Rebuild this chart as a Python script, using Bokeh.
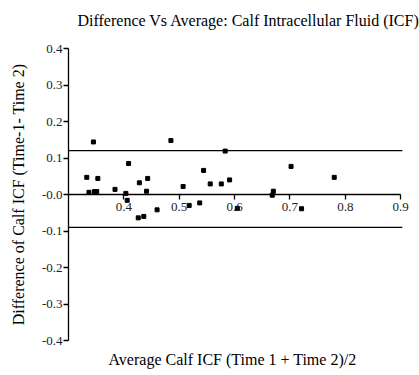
from bokeh.plotting import figure
from bokeh.models import Range1d, FixedTicker, Title, LabelSet, ColumnDataSource, CustomJSTickFormatter
from bokeh.core.properties import value
from bokeh.embed import file_html
from bokeh.resources import INLINE

# Data
avg_icf = [0.345, 0.333, 0.353, 0.337, 0.347, 0.351, 0.384, 0.4085, 0.4036, 0.406,
           0.428, 0.443, 0.441, 0.426, 0.436, 0.460, 0.485, 0.583, 0.544, 0.507,
           0.556, 0.576, 0.591, 0.518, 0.537, 0.605, 0.670, 0.668, 0.702, 0.780, 0.721]
diff_icf = [0.144, 0.047, 0.044, 0.006, 0.008, 0.008, 0.014, 0.085, 0.003, -0.016,
            0.032, 0.044, 0.009, -0.064, -0.060, -0.042, 0.148, 0.119, 0.066, 0.022,
            0.029, 0.029, 0.040, -0.030, -0.023, -0.038, 0.009, -0.002, 0.077, 0.047, -0.039]
limit_values = [0.12, -0.09]
x_ticks = [0.4, 0.5, 0.6, 0.7, 0.8, 0.9]
x_tick_labels = ["0.4", "0.5", "0.6", "0.7", "0.8", "0.9"]
y_ticks = [-0.4, -0.3, -0.2, -0.1, 0.0, 0.1, 0.2, 0.3, 0.4]
x_axis_span = [0.3, 0.9]
limit_span = [0.3, 0.903]
x_extent = [0.3, 0.925]
y_extent = [-0.4, 0.4]

FONT = "Liberation Serif"

p = figure(width=419, height=375, output_backend="svg", toolbar_location=None,
           x_range=Range1d(x_extent[0], x_extent[1]),
           y_range=Range1d(y_extent[0], y_extent[1]),
           min_border_left=68, min_border_right=5, min_border_top=48, min_border_bottom=34)

p.title.text = "Difference Vs Average: Calf Intracellular Fluid (ICF)\n "
p.title.align = "left"
p.title.offset = 9
p.title.standoff = 6
p.title.text_font = FONT
p.title.text_font_size = "16px"
p.title.text_font_style = "normal"
p.title.text_color = "black"

p.grid.visible = False
p.outline_line_color = None
p.background_fill_color = "white"
p.border_fill_color = "white"

# Y axis
ya = p.yaxis[0]
ya.ticker = FixedTicker(ticks=y_ticks)
ya.formatter = CustomJSTickFormatter(code="""
const s = tick.toFixed(1);
return (s === "0.0" || s === "-0.0") ? "-0.0" : s;
""")
ya.axis_label = "Difference of Calf ICF (Time-1- Time 2)"
ya.axis_label_text_font = FONT
ya.axis_label_text_font_size = "16px"
ya.axis_label_text_font_style = "normal"
ya.axis_label_text_color = "black"
ya.major_label_text_font = FONT
ya.major_label_text_font_style = "normal"
ya.major_label_text_font_size = "13px"
ya.major_label_text_color = "#222222"
ya.major_tick_out = 5
ya.major_tick_in = 0
ya.minor_tick_line_color = None
ya.axis_line_width = 1.3
ya.major_tick_line_width = 1.3
ya.major_label_standoff = 1
ya.axis_label_standoff = 12

# X axis crossing at y = 0 (its line drawn separately so it stops at 0.9)
xa = p.xaxis[0]
xa.fixed_location = 0
xa.ticker = FixedTicker(ticks=x_ticks)
xa.axis_line_color = None
xa.major_label_text_font_size = "13px"
xa.major_label_text_alpha = 0
xa.major_tick_out = 5
xa.major_tick_in = 0
xa.minor_tick_line_color = None
xa.major_tick_line_width = 1.3

xsrc = ColumnDataSource(dict(x=x_ticks, y=[0] * len(x_ticks), t=x_tick_labels))
p.add_layout(LabelSet(x="x", y="y", text="t", source=xsrc, x_offset=0, y_offset=-8,
                      text_align="center", text_baseline="top",
                      text_font=value(FONT), text_font_style="normal",
                      text_font_size="13px", text_color="#222222"))

p.segment(x0=[x_axis_span[0]], x1=[x_axis_span[1]], y0=[0], y1=[0],
          line_color="black", line_width=1.3)

p.add_layout(Title(text="Average Calf ICF (Time 1 + Time 2)/2", align="left", offset=40,
                   text_font=FONT, text_font_size="16px", text_font_style="normal",
                   text_color="black", standoff=16), "below")

# Limit lines
p.segment(x0=[limit_span[0]] * len(limit_values), x1=[limit_span[1]] * len(limit_values),
          y0=limit_values, y1=limit_values, line_color="black", line_width=1.3)

p.scatter(avg_icf, diff_icf, marker="square", size=4, fill_color="black",
          line_color="black")

open("out.html", "w").write(file_html(p, INLINE))
